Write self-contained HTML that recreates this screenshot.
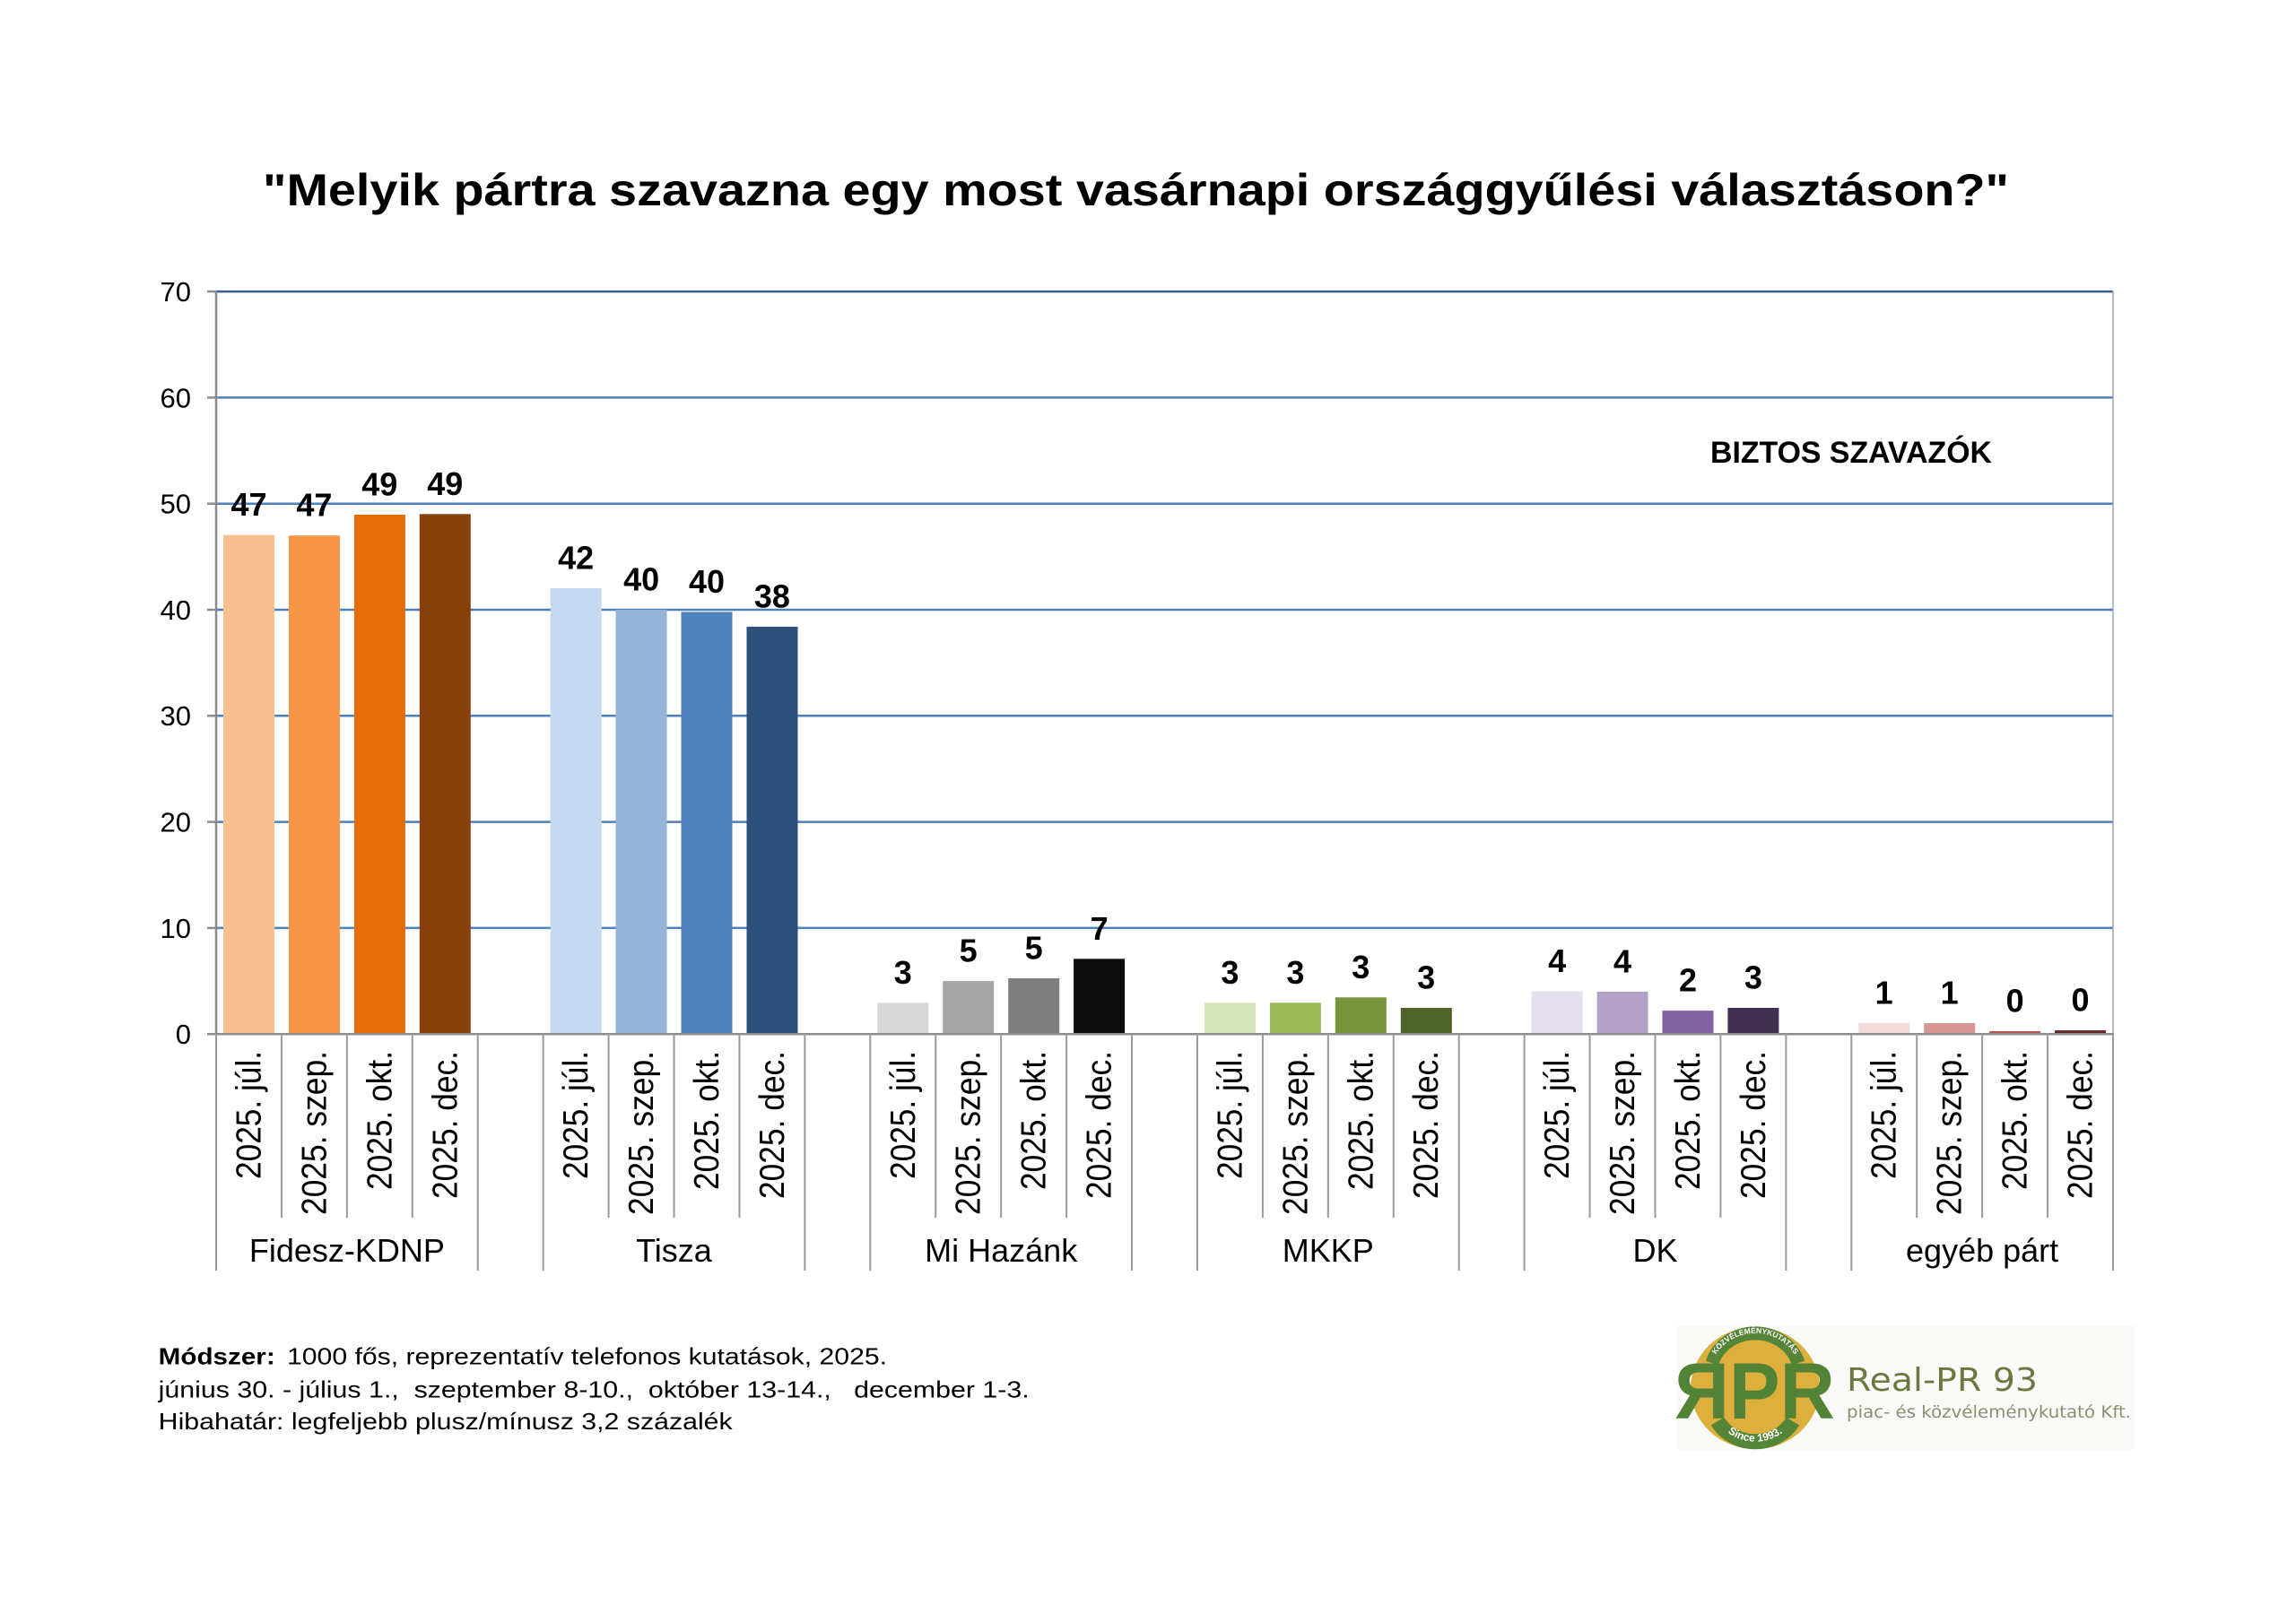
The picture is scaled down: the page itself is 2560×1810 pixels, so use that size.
<!DOCTYPE html>
<html><head><meta charset="utf-8"><style>
html,body{margin:0;padding:0;background:#fff;}
svg{display:block;}
text{font-family:"Liberation Sans",Arial,sans-serif;}
</style></head><body>
<svg width="2560" height="1810" viewBox="0 0 2560 1810" xmlns="http://www.w3.org/2000/svg">
<rect width="2560" height="1810" fill="#fff"/>

<!-- Title -->
<text x="293" y="229" font-size="50" font-weight="bold" fill="#000" textLength="1947" lengthAdjust="spacingAndGlyphs">"Melyik pártra szavazna egy most vasárnapi országgyűlési választáson?"</text>

<!-- Gridlines -->
<g stroke="#4f81bd" stroke-width="2.5">
<line x1="241" y1="443.4" x2="2356" y2="443.4"/>
<line x1="241" y1="561.7" x2="2356" y2="561.7"/>
<line x1="241" y1="680" x2="2356" y2="680"/>
<line x1="241" y1="798.3" x2="2356" y2="798.3"/>
<line x1="241" y1="916.6" x2="2356" y2="916.6"/>
<line x1="241" y1="1034.9" x2="2356" y2="1034.9"/>
</g>
<line x1="241" y1="325.1" x2="2356" y2="325.1" stroke="#3a5f8f" stroke-width="2.5"/>
<line x1="2356" y1="325" x2="2356" y2="1153" stroke="#9aa6b4" stroke-width="1.5"/>

<!-- Y axis labels -->
<g font-size="31" fill="#000" text-anchor="end">
<text x="213" y="336">70</text>
<text x="213" y="454.3">60</text>
<text x="213" y="572.6">50</text>
<text x="213" y="690.9">40</text>
<text x="213" y="809.2">30</text>
<text x="213" y="927.5">20</text>
<text x="213" y="1045.8">10</text>
<text x="213" y="1164.1">0</text>
</g>

<!-- BIZTOS SZAVAZÓK -->
<text x="1907" y="516" font-size="34" font-weight="bold" fill="#000" textLength="314" lengthAdjust="spacingAndGlyphs">BIZTOS SZAVAZÓK</text>

<!-- Bars -->
<g>
<rect x="249.0" y="596.7" width="57" height="556.5" fill="#f9c08f"/>
<rect x="321.9" y="597.2" width="57" height="556.0" fill="#f79646"/>
<rect x="394.9" y="574.0" width="57" height="579.2" fill="#e46c0a"/>
<rect x="467.8" y="573.3" width="57" height="579.9" fill="#87410a"/>

<rect x="613.7" y="656.0" width="57" height="497.2" fill="#c6d9f1"/>
<rect x="686.6" y="680.0" width="57" height="473.2" fill="#95b3d7"/>
<rect x="759.5" y="682.4" width="57" height="470.8" fill="#4f81bd"/>
<rect x="832.5" y="698.9" width="57" height="454.3" fill="#2c4f7b"/>

<rect x="978.3" y="1118.3" width="57" height="34.9" fill="#d9d9d9"/>
<rect x="1051.2" y="1094.1" width="57" height="59.1" fill="#a6a6a6"/>
<rect x="1124.2" y="1091.0" width="57" height="62.2" fill="#7f7f7f"/>
<rect x="1197.1" y="1069.3" width="57" height="83.9" fill="#0d0d0d"/>

<rect x="1343.0" y="1118.3" width="57" height="34.9" fill="#d7e4bd"/>
<rect x="1415.9" y="1118.3" width="57" height="34.9" fill="#9bbb59"/>
<rect x="1488.8" y="1112.3" width="57" height="40.9" fill="#77933c"/>
<rect x="1561.8" y="1124.0" width="57" height="29.2" fill="#4f6228"/>

<rect x="1707.6" y="1105.6" width="57" height="47.6" fill="#e4dfec"/>
<rect x="1780.6" y="1105.9" width="57" height="47.3" fill="#b3a2c7"/>
<rect x="1853.5" y="1127.1" width="57" height="26.1" fill="#8064a2"/>
<rect x="1926.4" y="1124.0" width="57" height="29.2" fill="#403152"/>

<rect x="2072.3" y="1141.0" width="57" height="12.2" fill="#f2dcdb"/>
<rect x="2145.2" y="1141.0" width="57" height="12.2" fill="#d99694"/>
<rect x="2218.1" y="1150.0" width="57" height="3.2" fill="#c0504d"/>
<rect x="2291.1" y="1149.1" width="57" height="4.1" fill="#632523"/>
</g>

<!-- Value labels -->
<g font-size="36" font-weight="bold" fill="#000" text-anchor="middle">
<text x="277.5" y="575.2">47</text>
<text x="350.4" y="575.7">47</text>
<text x="423.3" y="552.5">49</text>
<text x="496.3" y="551.8">49</text>

<text x="642.1" y="634.5">42</text>
<text x="715.1" y="658.5">40</text>
<text x="788.0" y="660.9">40</text>
<text x="860.9" y="677.4">38</text>

<text x="1006.8" y="1096.8">3</text>
<text x="1079.7" y="1072.6">5</text>
<text x="1152.6" y="1069.5">5</text>
<text x="1225.6" y="1047.8">7</text>

<text x="1371.4" y="1096.8">3</text>
<text x="1444.4" y="1096.8">3</text>
<text x="1517.3" y="1090.8">3</text>
<text x="1590.2" y="1102.5">3</text>

<text x="1736.1" y="1084.1">4</text>
<text x="1809.0" y="1084.4">4</text>
<text x="1882.0" y="1105.6">2</text>
<text x="1954.9" y="1102.5">3</text>

<text x="2100.7" y="1119.5">1</text>
<text x="2173.7" y="1119.5">1</text>
<text x="2246.6" y="1128.5">0</text>
<text x="2319.5" y="1127.6">0</text>
</g>

<!-- Axes -->
<g stroke="#8c8c8c" stroke-width="2.5">
<line x1="241" y1="325" x2="241" y2="1153"/>
<line x1="231" y1="325.1" x2="241" y2="325.1"/>
<line x1="231" y1="443.4" x2="241" y2="443.4"/>
<line x1="231" y1="561.7" x2="241" y2="561.7"/>
<line x1="231" y1="680" x2="241" y2="680"/>
<line x1="231" y1="798.3" x2="241" y2="798.3"/>
<line x1="231" y1="916.6" x2="241" y2="916.6"/>
<line x1="231" y1="1034.9" x2="241" y2="1034.9"/>
<line x1="231" y1="1153.2" x2="2357" y2="1153.2"/>
</g>

<!-- Category separators -->
<g stroke="#9a9a9a" stroke-width="2">
<line x1="241" y1="1153" x2="241" y2="1417"/>
<line x1="532.72" y1="1153" x2="532.72" y2="1417"/>
<line x1="605.66" y1="1153" x2="605.66" y2="1417"/>
<line x1="897.38" y1="1153" x2="897.38" y2="1417"/>
<line x1="970.31" y1="1153" x2="970.31" y2="1417"/>
<line x1="1262.03" y1="1153" x2="1262.03" y2="1417"/>
<line x1="1334.97" y1="1153" x2="1334.97" y2="1417"/>
<line x1="1626.69" y1="1153" x2="1626.69" y2="1417"/>
<line x1="1699.62" y1="1153" x2="1699.62" y2="1417"/>
<line x1="1991.34" y1="1153" x2="1991.34" y2="1417"/>
<line x1="2064.28" y1="1153" x2="2064.28" y2="1417"/>
<line x1="2356" y1="1153" x2="2356" y2="1417"/>
<line x1="313.93" y1="1153" x2="313.93" y2="1358"/>
<line x1="386.86" y1="1153" x2="386.86" y2="1358"/>
<line x1="459.79" y1="1153" x2="459.79" y2="1358"/>
<line x1="678.59" y1="1153" x2="678.59" y2="1358"/>
<line x1="751.52" y1="1153" x2="751.52" y2="1358"/>
<line x1="824.45" y1="1153" x2="824.45" y2="1358"/>
<line x1="1043.24" y1="1153" x2="1043.24" y2="1358"/>
<line x1="1116.17" y1="1153" x2="1116.17" y2="1358"/>
<line x1="1189.10" y1="1153" x2="1189.10" y2="1358"/>
<line x1="1407.90" y1="1153" x2="1407.90" y2="1358"/>
<line x1="1480.83" y1="1153" x2="1480.83" y2="1358"/>
<line x1="1553.76" y1="1153" x2="1553.76" y2="1358"/>
<line x1="1772.55" y1="1153" x2="1772.55" y2="1358"/>
<line x1="1845.48" y1="1153" x2="1845.48" y2="1358"/>
<line x1="1918.41" y1="1153" x2="1918.41" y2="1358"/>
<line x1="2137.21" y1="1153" x2="2137.21" y2="1358"/>
<line x1="2210.14" y1="1153" x2="2210.14" y2="1358"/>
<line x1="2283.07" y1="1153" x2="2283.07" y2="1358"/>
</g>

<!-- Rotated category labels -->
<g font-size="35" fill="#000" text-anchor="end">
<text transform="translate(290.5,1172) rotate(-90) scale(1,1.1)" textLength="143" lengthAdjust="spacingAndGlyphs">2025. júl.</text>
<text transform="translate(363.4,1172) rotate(-90) scale(1,1.1)" textLength="183" lengthAdjust="spacingAndGlyphs">2025. szep.</text>
<text transform="translate(436.3,1172) rotate(-90) scale(1,1.1)" textLength="155" lengthAdjust="spacingAndGlyphs">2025. okt.</text>
<text transform="translate(509.3,1172) rotate(-90) scale(1,1.1)" textLength="165" lengthAdjust="spacingAndGlyphs">2025. dec.</text>

<text transform="translate(655.1,1172) rotate(-90) scale(1,1.1)" textLength="143" lengthAdjust="spacingAndGlyphs">2025. júl.</text>
<text transform="translate(728.1,1172) rotate(-90) scale(1,1.1)" textLength="183" lengthAdjust="spacingAndGlyphs">2025. szep.</text>
<text transform="translate(801.0,1172) rotate(-90) scale(1,1.1)" textLength="155" lengthAdjust="spacingAndGlyphs">2025. okt.</text>
<text transform="translate(873.9,1172) rotate(-90) scale(1,1.1)" textLength="165" lengthAdjust="spacingAndGlyphs">2025. dec.</text>

<text transform="translate(1019.8,1172) rotate(-90) scale(1,1.1)" textLength="143" lengthAdjust="spacingAndGlyphs">2025. júl.</text>
<text transform="translate(1092.7,1172) rotate(-90) scale(1,1.1)" textLength="183" lengthAdjust="spacingAndGlyphs">2025. szep.</text>
<text transform="translate(1165.6,1172) rotate(-90) scale(1,1.1)" textLength="155" lengthAdjust="spacingAndGlyphs">2025. okt.</text>
<text transform="translate(1238.6,1172) rotate(-90) scale(1,1.1)" textLength="165" lengthAdjust="spacingAndGlyphs">2025. dec.</text>

<text transform="translate(1384.4,1172) rotate(-90) scale(1,1.1)" textLength="143" lengthAdjust="spacingAndGlyphs">2025. júl.</text>
<text transform="translate(1457.4,1172) rotate(-90) scale(1,1.1)" textLength="183" lengthAdjust="spacingAndGlyphs">2025. szep.</text>
<text transform="translate(1530.3,1172) rotate(-90) scale(1,1.1)" textLength="155" lengthAdjust="spacingAndGlyphs">2025. okt.</text>
<text transform="translate(1603.2,1172) rotate(-90) scale(1,1.1)" textLength="165" lengthAdjust="spacingAndGlyphs">2025. dec.</text>

<text transform="translate(1749.1,1172) rotate(-90) scale(1,1.1)" textLength="143" lengthAdjust="spacingAndGlyphs">2025. júl.</text>
<text transform="translate(1822.0,1172) rotate(-90) scale(1,1.1)" textLength="183" lengthAdjust="spacingAndGlyphs">2025. szep.</text>
<text transform="translate(1895.0,1172) rotate(-90) scale(1,1.1)" textLength="155" lengthAdjust="spacingAndGlyphs">2025. okt.</text>
<text transform="translate(1967.9,1172) rotate(-90) scale(1,1.1)" textLength="165" lengthAdjust="spacingAndGlyphs">2025. dec.</text>

<text transform="translate(2113.7,1172) rotate(-90) scale(1,1.1)" textLength="143" lengthAdjust="spacingAndGlyphs">2025. júl.</text>
<text transform="translate(2186.7,1172) rotate(-90) scale(1,1.1)" textLength="183" lengthAdjust="spacingAndGlyphs">2025. szep.</text>
<text transform="translate(2259.6,1172) rotate(-90) scale(1,1.1)" textLength="155" lengthAdjust="spacingAndGlyphs">2025. okt.</text>
<text transform="translate(2332.5,1172) rotate(-90) scale(1,1.1)" textLength="165" lengthAdjust="spacingAndGlyphs">2025. dec.</text>
</g>

<!-- Group labels -->
<g font-size="36" fill="#000" text-anchor="middle">
<text x="386.9" y="1407">Fidesz-KDNP</text>
<text x="751.5" y="1407">Tisza</text>
<text x="1116.2" y="1407">Mi Hazánk</text>
<text x="1480.8" y="1407">MKKP</text>
<text x="1845.5" y="1407">DK</text>
<text x="2210.1" y="1407">egyéb párt</text>
</g>

<!-- Footnote -->
<g font-size="26" fill="#000">
<text x="176.7" y="1521.7" font-weight="bold" textLength="130" lengthAdjust="spacingAndGlyphs">Módszer:</text>
<text x="320" y="1521.7" textLength="669" lengthAdjust="spacingAndGlyphs">1000 fős, reprezentatív telefonos kutatások, 2025.</text>
<text x="176.7" y="1558.3" textLength="971" lengthAdjust="spacingAndGlyphs" style="white-space:pre">június 30. - július 1.,  szeptember 8-10.,  október 13-14.,   december 1-3.</text>
<text x="176.7" y="1594" textLength="640" lengthAdjust="spacingAndGlyphs">Hibahatár: legfeljebb plusz/mínusz 3,2 százalék</text>
</g>

<!-- Logo -->
<rect x="1869" y="1478" width="511" height="139" fill="#fafaf9"/>
<ellipse cx="1957" cy="1548" rx="72" ry="68" fill="#ddb03e"/>
<defs>
<path id="arcTop" d="M 1909 1520 A 50 46 0 0 1 2005 1520"/>
<path id="arcBot" d="M 1915 1585 A 48 44 0 0 0 1999 1585"/>
</defs>
<path d="M 1909 1520 A 50 46 0 0 1 2005 1520" fill="none" stroke="#558538" stroke-width="15"/>
<path d="M 1915 1585 A 48 44 0 0 0 1999 1585" fill="none" stroke="#558538" stroke-width="17"/>
<text font-size="8.5" font-weight="bold" fill="#fff" text-anchor="middle"><textPath href="#arcTop" startOffset="50%" dy="3">KÖZVÉLEMÉNYKUTATÁS</textPath></text>
<text font-size="12" font-weight="bold" fill="#fff" text-anchor="middle"><textPath href="#arcBot" startOffset="50%" side="left">Since 1993.</textPath></text>
<text x="1867" y="1582" font-size="89" font-weight="bold" fill="#528236" textLength="179" lengthAdjust="spacingAndGlyphs">ЯPR</text>
<text x="2059" y="1551" font-size="36" fill="#6b7840" style="font-family:'DejaVu Sans','Liberation Sans',sans-serif" textLength="213" lengthAdjust="spacingAndGlyphs">Real-PR 93</text>
<text x="2059" y="1581" font-size="19" fill="#8a9070" style="font-family:'DejaVu Sans','Liberation Sans',sans-serif" textLength="317" lengthAdjust="spacingAndGlyphs">piac- és közvéleménykutató Kft.</text>
</svg>
</body></html>
